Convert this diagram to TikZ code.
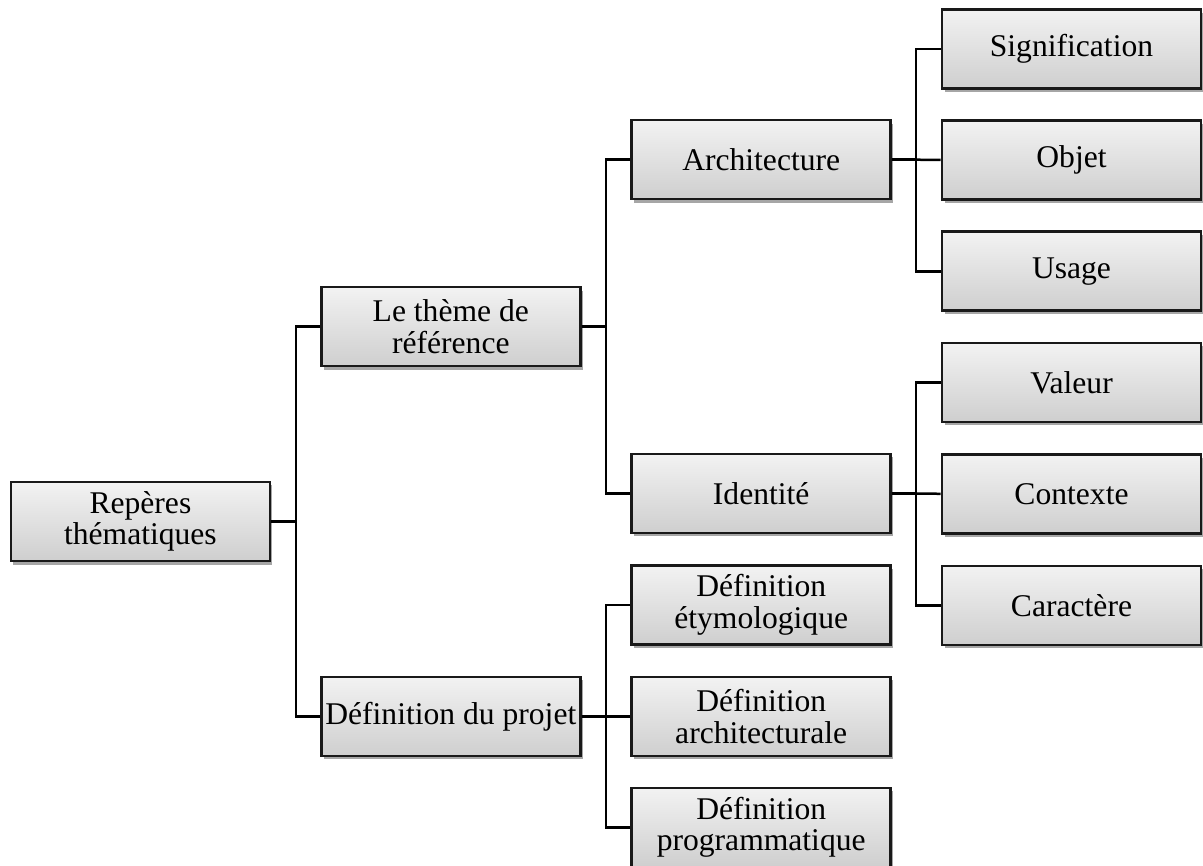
\documentclass[tikz,border=0pt]{standalone}
\usepackage{fontspec}
\setmainfont{Liberation Serif}
\usetikzlibrary{shadows}
\tikzset{
  box/.style={draw=black!90, line width=2.6pt, minimum width=259pt, minimum height=79pt,
    inner sep=0pt, align=center, top color=gray!10, bottom color=gray!38,
    drop shadow={shadow xshift=2.5pt, shadow yshift=-3.5pt, opacity=0.35, fill=black},
    font=\fontsize{31.6}{31.7}\selectfont},
  conn/.style={line width=2.5pt, draw=black}
}
\begin{document}
\begin{tikzpicture}[x=1pt,y=-1pt]
\useasboundingbox (0,0) rectangle (1203,866);
% nodes
\node[box] (rep)   at (140.4,521.5) {Repères\\thématiques};
\node[box] (theme) at (450.8,326.7) {Le thème de\\référence};
\node[box] (defp)  at (450.8,716.4) {Définition du projet};
\node[box] (arch)  at (761.2,159.7) {Architecture};
\node[box] (iden)  at (761.2,493.5) {Identité};
\node[box] (dety)  at (761.2,605.0) {Définition\\étymologique};
\node[box] (darc)  at (761.2,716.4) {Définition\\architecturale};
\node[box] (dprog) at (761.2,827.3) {Définition\\programmatique};
\node[box] (sig)   at (1071.5,48.8) {Signification};
\node[box] (obj)   at (1071.5,160.0) {Objet};
\node[box] (usa)   at (1071.5,271.3) {Usage};
\node[box] (val)   at (1071.5,382.5) {Valeur};
\node[box] (con)   at (1071.5,493.8) {Contexte};
\node[box] (car)   at (1071.5,605.3) {Caractère};
% junctions
\coordinate (j1) at (296,521.5);
\coordinate (j2) at (606,326.7);
\coordinate (j3) at (606,716.4);
\coordinate (j4) at (916,159.7);
\coordinate (j5) at (916,493.5);
% connectors
\draw[conn] (rep.east) -- (j1);
\draw[conn] (theme.west) -| (j1);
\draw[conn] (defp.west) -| (j1);
\draw[conn] (theme.east) -- (j2);
\draw[conn] (arch.west) -| (j2);
\draw[conn] (iden.west) -| (j2);
\draw[conn] (defp.east) -- (j3);
\draw[conn] (dety.west) -| (j3);
\draw[conn] (darc.west) -- (j3);
\draw[conn] (dprog.west) -| (j3);
\draw[conn] (arch.east) -- (j4);
\draw[conn] (sig.west) -| (j4);
\draw[conn] (obj.west) -- (j4);
\draw[conn] (usa.west) -| (j4);
\draw[conn] (iden.east) -- (j5);
\draw[conn] (val.west) -| (j5);
\draw[conn] (con.west) -- (j5);
\draw[conn] (car.west) -| (j5);
\end{tikzpicture}
\end{document}
